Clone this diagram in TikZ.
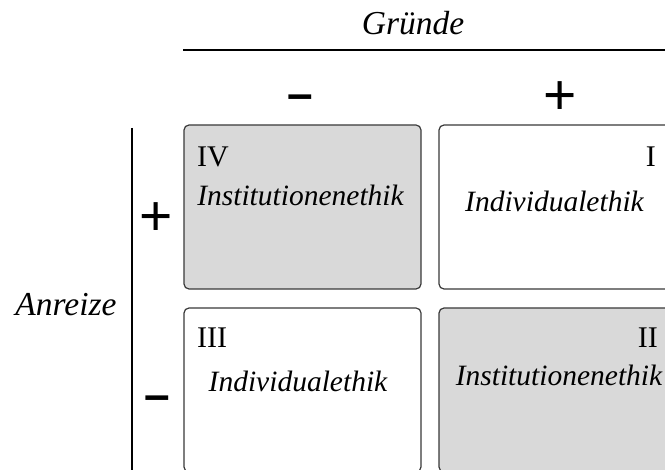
\documentclass[tikz,border=0pt]{standalone}
\usepackage{fontspec}
\setmainfont{Liberation Serif}
\newfontfamily\signfont{Liberation Sans}
\definecolor{cellgray}{HTML}{D9D9D9}
\definecolor{celledge}{HTML}{3A3A3A}
\begin{document}
\begin{tikzpicture}[x=1pt,y=-1pt,
  cell/.style={draw=celledge, line width=1.2pt, rounded corners=5pt, minimum width=237pt, minimum height=164pt, inner sep=0pt},
  shaded/.style={cell, fill=cellgray},
  blank/.style={cell, fill=white},
  numeral/.style={inner sep=0pt, font=\fontsize{30}{35}\selectfont},
  ethik/.style={inner sep=0pt, anchor=base, font=\fontsize{29.5}{35}\selectfont\itshape},
  axislabel/.style={inner sep=0pt, anchor=base, font=\fontsize{33.5}{38}\selectfont\itshape},
  plussign/.style={inner sep=0pt, anchor=base, font=\signfont\fontsize{57}{60}\selectfont},
  minussign/.style={inner sep=0pt, anchor=base, font=\signfont\bfseries\fontsize{46}{50}\selectfont},
  axisline/.style={line width=2pt, black}
]
\useasboundingbox (0,0) rectangle (665,470);
\clip (0,0) rectangle (665,470);
\fill[white] (0,0) rectangle (665,470);

% axes
\coordinate (gl) at (183,50);
\coordinate (gr) at (680,50);
\draw[axisline] (gl) -- (gr);
\coordinate (at) at (132,128);
\coordinate (ab) at (132,480);
\draw[axisline] (at) -- (ab);

\node[axislabel] (gruende) at (413,35) {Gründe};
\node[axislabel] (anreize) at (66,316) {Anreize};

\node[minussign] (gminus) at (300,110) {–};
\node[plussign] (gplus) at (560,115) {+};
\node[plussign] (aplus) at (156,236) {+};
\node[minussign] (aminus) at (157,411) {–};

% cells
\node[shaded] (iv) at (302.5,207) {};
\node[blank] (i) at (557.5,207) {};
\node[blank] (iii) at (302.5,390) {};
\node[shaded] (ii) at (557.5,390) {};

\node[numeral, anchor=base west] (ivnum) at (197,167) {IV};
\node[numeral, anchor=base east] (inum) at (656,167) {I};
\node[numeral, anchor=base west] (iiinum) at (197,348) {III};
\node[numeral, anchor=base east] (iinum) at (658,348) {II};

\node[ethik] (ivtext) at (300.5,206) {Institutionenethik};
\node[ethik] (itext) at (554.5,212) {Individualethik};
\node[ethik] (iiitext) at (298,392) {Individualethik};
\node[ethik] (iitext) at (559,386) {Institutionenethik};
\end{tikzpicture}
\end{document}
